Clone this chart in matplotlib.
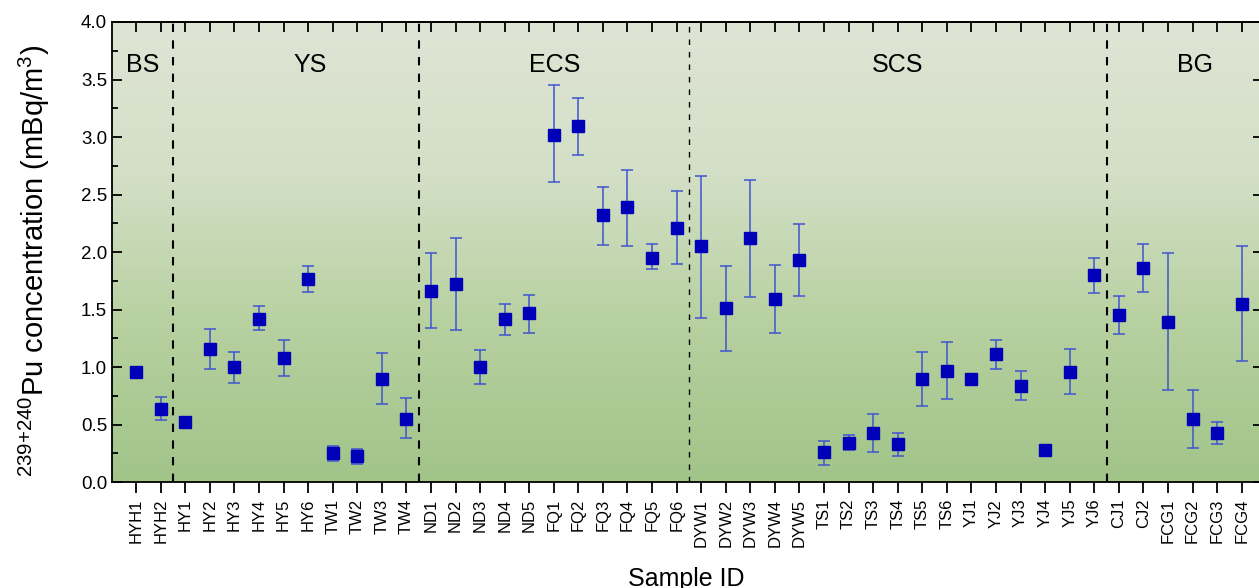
import numpy as np
import matplotlib.pyplot as plt
from matplotlib.colors import LinearSegmentedColormap
from matplotlib.ticker import MultipleLocator

plt.rcParams['font.family'] = ['Liberation Sans', 'DejaVu Sans']
plt.rcParams['mathtext.fontset'] = 'custom'
plt.rcParams['mathtext.rm'] = 'Liberation Sans'
plt.rcParams['mathtext.it'] = 'Liberation Sans'

# sample IDs, grouped by sea area
samples = ['HYH1', 'HYH2',
           'HY1', 'HY2', 'HY3', 'HY4', 'HY5', 'HY6', 'TW1', 'TW2', 'TW3', 'TW4',
           'ND1', 'ND2', 'ND3', 'ND4', 'ND5', 'FQ1', 'FQ2', 'FQ3', 'FQ4', 'FQ5', 'FQ6',
           'DYW1', 'DYW2', 'DYW3', 'DYW4', 'DYW5', 'TS1', 'TS2', 'TS3', 'TS4', 'TS5', 'TS6',
           'YJ1', 'YJ2', 'YJ3', 'YJ4', 'YJ5', 'YJ6',
           'CJ1', 'CJ2', 'FCG1', 'FCG2', 'FCG3', 'FCG4']

# 239+240Pu concentration (mBq/m3)
conc = [0.96, 0.64,
        0.52, 1.16, 1.00, 1.42, 1.08, 1.77, 0.25, 0.23, 0.90, 0.55,
        1.66, 1.72, 1.00, 1.42, 1.47, 3.02, 3.10, 2.32, 2.39, 1.95, 2.21,
        2.05, 1.51, 2.12, 1.59, 1.93, 0.26, 0.34, 0.43, 0.33, 0.90, 0.97,
        0.90, 1.11, 0.84, 0.28, 0.96, 1.80,
        1.45, 1.86, 1.39, 0.55, 0.43, 1.55]

# error bar ends
err_top = [0.96, 0.74,
           0.52, 1.33, 1.13, 1.53, 1.24, 1.88, 0.31, 0.29, 1.12, 0.73,
           1.99, 2.12, 1.15, 1.55, 1.63, 3.45, 3.34, 2.57, 2.71, 2.07, 2.53,
           2.66, 1.88, 2.63, 1.89, 2.24, 0.36, 0.41, 0.59, 0.43, 1.13, 1.22,
           0.90, 1.24, 0.97, 0.28, 1.16, 1.95,
           1.62, 2.07, 1.99, 0.80, 0.52, 2.05]
err_bot = [0.96, 0.54,
           0.52, 0.98, 0.86, 1.32, 0.92, 1.65, 0.18, 0.16, 0.68, 0.38,
           1.34, 1.32, 0.85, 1.28, 1.30, 2.61, 2.84, 2.06, 2.05, 1.85, 1.90,
           1.43, 1.14, 1.61, 1.30, 1.62, 0.15, 0.28, 0.26, 0.23, 0.66, 0.72,
           0.90, 0.98, 0.71, 0.28, 0.77, 1.64,
           1.29, 1.65, 0.80, 0.30, 0.33, 1.05]

regions = ['BS', 'YS', 'ECS', 'SCS', 'BG']
region_x = [0.28, 7.08, 17.05, 31.0, 43.1]
dividers = [1.5, 11.5, 22.5, 39.5]

x = np.arange(len(samples))
conc = np.array(conc)
yerr = [conc - np.array(err_bot), np.array(err_top) - conc]

fig = plt.figure(figsize=(12.59, 5.88), dpi=100)
ax = fig.add_axes([0.089, 0.180, 0.9115, 0.7826])

# green gradient background
cmap = LinearSegmentedColormap.from_list('bg', ['#dfe5d5', '#d3dfc6', '#b6d09f', '#a1c489'])
grad = np.linspace(0, 1, 256).reshape(-1, 1)
ax.imshow(grad, cmap=cmap, aspect='auto', extent=(0, 1, 0, 1),
          transform=ax.transAxes, zorder=0)

ax.errorbar(x, conc, yerr=yerr, fmt='s', color='#0000b8', markersize=8.5,
            ecolor='#3f55cf', elinewidth=1.1, capsize=4.5, capthick=1.1, zorder=3)

for i, d in enumerate(dividers):
    ax.axvline(d, color='black', linestyle=(0, (4, 4)) if i != 2 else (0, (4, 5)),
               linewidth=1.5 if i != 2 else 1.0, zorder=2)

for name, rx in zip(regions, region_x):
    ax.text(rx, 3.63, name, fontsize=18, ha='center', va='center', zorder=4)

ax.set_xlim(-0.98, 45.73)
ax.set_ylim(0, 4.0)
ax.set_xticks(x)
ax.set_xticklabels(samples, rotation=90, fontsize=12)
ax.yaxis.set_major_locator(MultipleLocator(0.5))
ax.yaxis.set_minor_locator(MultipleLocator(0.25))
ax.tick_params(axis='y', which='major', direction='in', length=7, width=1.3, labelsize=13.5)
ax.tick_params(axis='y', which='minor', direction='in', length=4, width=1.3)
ax.tick_params(axis='x', direction='out', length=8, width=1.3, pad=4)

top = ax.secondary_xaxis('top')
top.set_xticks(x)
top.tick_params(direction='in', length=7, width=1.3, labeltop=False)
right = ax.secondary_yaxis('right')
right.set_yticks(np.arange(0, 4.01, 0.5))
right.tick_params(direction='in', length=5, width=1.3, labelright=False)

for sp in list(ax.spines.values()) + [top.spines['top'], right.spines['right']]:
    sp.set_linewidth(1.3)

ax.set_ylabel('$^{239{+}240}$Pu concentration (mBq/m$^{3}$)', fontsize=21)
ax.yaxis.set_label_coords(-0.052, 0.48)
ax.set_xlabel('Sample ID', fontsize=18, labelpad=14)

fig.savefig('out.png', dpi=100)
